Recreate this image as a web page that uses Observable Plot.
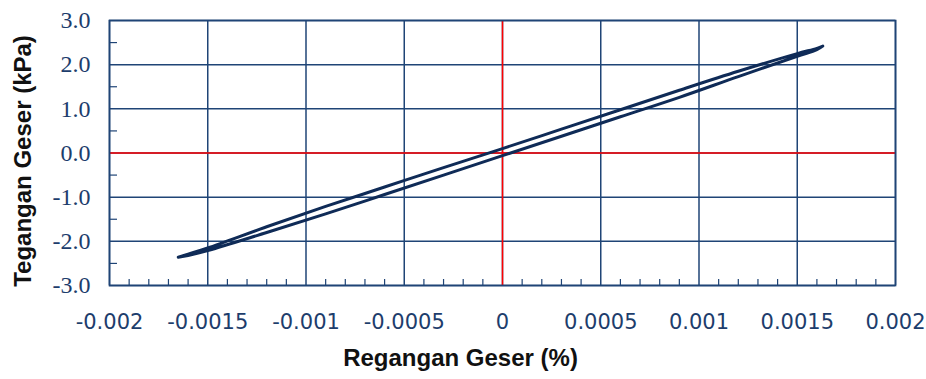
<!DOCTYPE html>
<html>
<head>
<meta charset="utf-8">
<script src="https://cdn.jsdelivr.net/npm/d3@7"></script>
<script src="https://cdn.jsdelivr.net/npm/@observablehq/plot@0.6"></script>
<style>
  html, body { margin: 0; padding: 0; background: #fff; }
  #chart svg { display: block; background: #fff; overflow: visible; }
</style>
</head>
<body>
<div id="chart"></div>
<script>
// Tick values
const xTicks = [-0.002, -0.0015, -0.001, -0.0005, 0, 0.0005, 0.001, 0.0015, 0.002];
const xTickLabels = ["-0.002", "-0.0015", "-0.001", "-0.0005", "0", "0.0005", "0.001", "0.0015", "0.002"];
const xMinor = [-0.0019,-0.0018,-0.0017,-0.0016,-0.0014,-0.0013,-0.0012,-0.0011,-0.0009,-0.0008,-0.0007,-0.0006,
  -0.0004,-0.0003,-0.0002,-0.0001,0.0001,0.0002,0.0003,0.0004,0.0006,0.0007,0.0008,0.0009,
  0.0011,0.0012,0.0013,0.0014,0.0016,0.0017,0.0018,0.0019];
const yTicks = [-3, -2, -1, 0, 1, 2, 3];
const yMinor = [-2.5, -1.5, -0.5, 0.5, 1.5, 2.5];

// Hysteresis loop: upper branch (left -> right) then lower branch (right -> left)
const upperStrain = [-0.00165, -0.0016, -0.0015, -0.0012, -0.0009, -0.0006, -0.0003, 0, 0.0003, 0.0006, 0.0009, 0.0012, 0.0015, 0.0016, 0.00163];
const upperStress = [-2.36, -2.29, -2.15, -1.67, -1.21, -0.77, -0.33, 0.10, 0.54, 0.98, 1.42, 1.85, 2.25, 2.37, 2.42];
const lowerStrain = [0.00163, 0.0016, 0.0015, 0.0012, 0.0009, 0.0006, 0.0003, 0, -0.0003, -0.0006, -0.0009, -0.0012, -0.0015, -0.0016, -0.00165];
const lowerStress = [2.42, 2.34, 2.19, 1.73, 1.26, 0.82, 0.38, -0.06, -0.50, -0.94, -1.38, -1.80, -2.21, -2.32, -2.36];

const loop = [
  ...upperStrain.map((x, i) => ({x, y: upperStress[i]})),
  ...lowerStrain.map((x, i) => ({x, y: lowerStress[i]}))
];

const navy = "#1f4476";
const lineCol = "#0f2b57";
const labelCol = "#1d3d6c";

const W = 926, H = 379;
const mL = 109, mR = 31, mT = 20, mB = 94;
const plotW = W - mL - mR, plotH = H - mT - mB;

const chart = Plot.plot({
  width: W,
  height: H,
  marginLeft: mL,
  marginRight: mR,
  marginTop: mT,
  marginBottom: mB,
  style: {background: "#fff"},
  x: {domain: [-0.002, 0.002], axis: null},
  y: {domain: [-3, 3], axis: null},
  marks: [
    Plot.ruleX(xTicks, {x: d => d, stroke: navy, strokeWidth: 1.5}),
    Plot.ruleY(yTicks, {y: d => d, stroke: navy, strokeWidth: 1.5}),
    Plot.tickX(xMinor, {x: d => d, insetTop: plotH - 6, stroke: navy, strokeWidth: 1.2}),
    Plot.tickY(yMinor, {y: d => d, insetRight: plotW - 8, stroke: navy, strokeWidth: 1.2}),
    Plot.ruleX([0], {x: d => d, stroke: "#ff0000", strokeWidth: 1.5}),
    Plot.ruleY([0], {y: d => d, stroke: "#ff0000", strokeWidth: 1.5}),
    Plot.frame({stroke: navy, strokeWidth: 1.7}),
    Plot.line(loop, {x: "x", y: "y", stroke: lineCol, strokeWidth: 3, curve: "catmull-rom", strokeLinejoin: "round", strokeLinecap: "round"}),
    Plot.text(xTicks, {x: d => d, text: (d, i) => xTickLabels[i], frameAnchor: "bottom", dy: 37,
      fontFamily: "DejaVu Sans", fontSize: 21, fill: labelCol, textAnchor: "middle", lineAnchor: "middle"}),
    Plot.text(yTicks, {y: d => d, text: d => d.toFixed(1), frameAnchor: "left", dx: -19,
      fontFamily: "Liberation Serif", fontSize: 24, fill: labelCol, textAnchor: "end", lineAnchor: "middle"}),
    Plot.text(["Regangan Geser (%)"], {text: d => d, frameAnchor: "bottom", dx: -42, dy: 73,
      fontFamily: "Liberation Sans", fontWeight: "bold", fontSize: 24, fill: "#111", textAnchor: "middle", lineAnchor: "middle"}),
    Plot.text(["Tegangan Geser (kPa)"], {text: d => d, frameAnchor: "left", rotate: -90, dx: -86, dy: 8,
      fontFamily: "Liberation Sans", fontWeight: "bold", fontSize: 24, fill: "#111", textAnchor: "middle", lineAnchor: "middle"})
  ]
});
document.getElementById("chart").appendChild(chart);
</script>
</body>
</html>
